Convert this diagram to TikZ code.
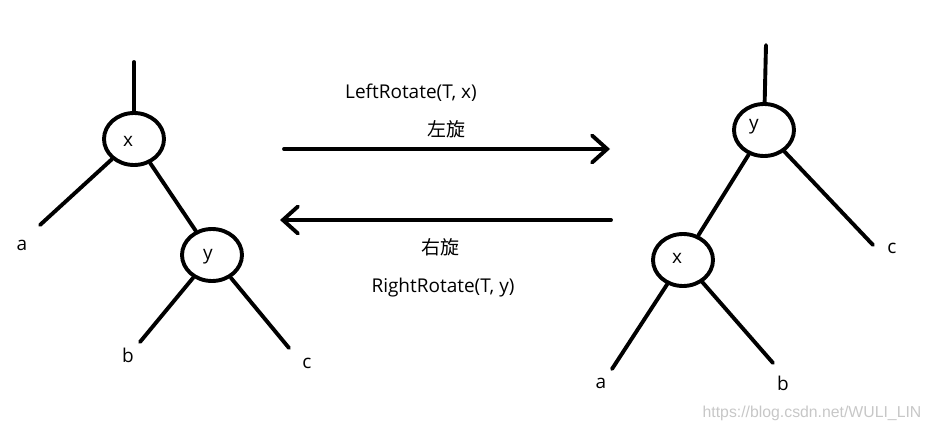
\documentclass[tikz,border=0pt]{standalone}
\usepackage{fontspec}
\setmainfont{Open Sans}
\newfontfamily\cjk{Noto Sans CJK SC}
\newfontfamily\wmfont{Liberation Sans}
\usetikzlibrary{shapes.geometric,arrows.meta}
\begin{document}
\begin{tikzpicture}[x=1pt,y=-1pt,
  every node/.style={font=\fontsize{19}{22}\selectfont},
  treenode/.style={ellipse,draw,line width=3.9pt,minimum width=60pt,minimum height=52pt,inner sep=0pt},
  edge/.style={line width=3.9pt,line cap=round},
  arr/.style={line width=3.9pt,line cap=round,-{Straight Barb[length=15pt,width=27pt,line cap=round]}},
  leaf/.style={inner sep=0pt},
  lbl/.style={inner sep=0pt}]
\useasboundingbox (0,0) rectangle (930,433);
% left tree
\node[treenode,label={[lbl,xshift=-6pt,yshift=-2pt]center:x}] (x1) at (134,139) {};
\node[treenode,label={[lbl,xshift=-4pt,yshift=-2pt]center:y}] (y1) at (212,255) {};
\coordinate (t1) at (134,62);
\coordinate (ea1) at (40,225);
\coordinate (eb1) at (140,342);
\coordinate (ec1) at (289,348);
\node[leaf] (a1) at (22,245) {a};
\node[leaf] (b1) at (128,355) {b};
\node[leaf] (c1) at (307,363) {c};
\draw[edge] (t1) -- (x1);
\draw[edge] (x1) -- (ea1);
\draw[edge] (x1) -- (y1);
\draw[edge] (y1) -- (eb1);
\draw[edge] (y1) -- (ec1);
% arrows
\coordinate (la) at (284,149);
\coordinate (ra) at (610,149);
\coordinate (lb) at (280,220);
\coordinate (rb) at (611,220);
\draw[arr] (la) -- (ra);
\draw[arr] (rb) -- (lb);
\node[lbl] (lr) at (411,93) {LeftRotate(T, x)};
\node[lbl,font=\cjk\fontsize{19}{22}\selectfont] (zx) at (446,129) {左旋};
\node[lbl,font=\cjk\fontsize{19}{22}\selectfont] (yx) at (440,247) {右旋};
\node[lbl] (rr) at (443,288) {RightRotate(T, y)};
% right tree
\node[treenode,label={[lbl,xshift=-10pt,yshift=3pt]center:y}] (y2) at (764,130) {};
\node[treenode,label={[lbl,xshift=-6pt,yshift=2pt]center:x}] (x2) at (683,260) {};
\coordinate (t2) at (766,45);
\coordinate (ec2) at (873,245);
\coordinate (ea2) at (612,369);
\coordinate (eb2) at (773,363);
\node[leaf] (c2) at (892,248) {c};
\node[leaf] (a2) at (601,383) {a};
\node[leaf] (b2) at (783,383) {b};
\draw[edge] (t2) -- (y2);
\draw[edge] (y2) -- (ec2);
\draw[edge] (y2) -- (x2);
\draw[edge] (x2) -- (ea2);
\draw[edge] (x2) -- (eb2);
% watermark
\node[lbl,font=\wmfont\fontsize{15.8}{18}\selectfont,text=black!22] (wm) at (812,413) {https://blog.csdn.net/WULI\_LIN};
\end{tikzpicture}
\end{document}
